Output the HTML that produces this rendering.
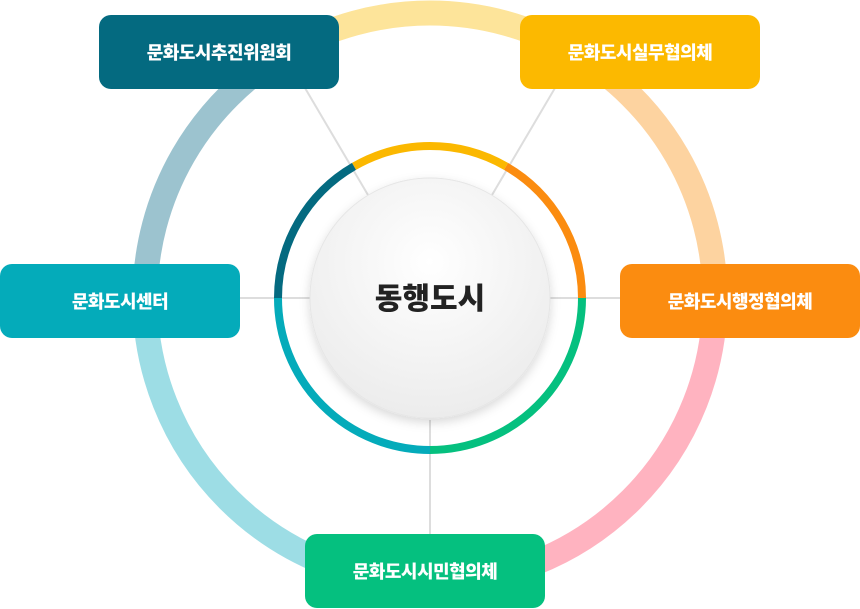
<!DOCTYPE html>
<html><head><meta charset="utf-8"><style>
html,body{margin:0;padding:0;background:#fff;}
body{width:860px;height:609px;position:relative;overflow:hidden;font-family:"Liberation Sans","Noto Sans CJK KR",sans-serif;}
.box{position:absolute;width:240px;height:74px;border-radius:12px;color:#fff;font-weight:900;font-size:18px;display:flex;align-items:center;justify-content:center;letter-spacing:-0.5px;}
</style></head><body>
<svg width="860" height="609" style="position:absolute;left:0;top:0">
<defs>
<radialGradient id="g" cx="50%" cy="35%" r="65%"><stop offset="0" stop-color="#ffffff"/><stop offset="1" stop-color="#ececec"/></radialGradient>
<filter id="sh" x="-20%" y="-20%" width="140%" height="140%"><feDropShadow dx="0" dy="4" stdDeviation="5" flood-color="#000" flood-opacity="0.15"/></filter>
</defs>
<g fill="none" stroke-width="25">
<path d="M 287.5 51.2 A 285 285 0 0 1 572.5 51.2" stroke="#fde49a"/>
<path d="M 572.5 51.2 A 285 285 0 0 1 715 298" stroke="#fdd3a0"/>
<path d="M 715 298 A 285 285 0 0 1 430 583" stroke="#ffb3c0"/>
<path d="M 430 583 A 285 285 0 0 1 145 298" stroke="#9ddde5"/>
<path d="M 145 298 A 285 285 0 0 1 287.5 51.2" stroke="#9cc3cf"/>
</g>
<g stroke="#dddddd" stroke-width="2">
<line x1="305" y1="88" x2="368" y2="195"/>
<line x1="555" y1="88" x2="492" y2="195"/>
<line x1="240" y1="298" x2="310" y2="298"/>
<line x1="550" y1="298" x2="620" y2="298"/>
<line x1="430" y1="420" x2="430" y2="534"/>
</g>
<g fill="none" stroke-width="8">
<path d="M 354 166.4 A 152 152 0 0 1 506 166.4" stroke="#fbb800"/>
<path d="M 506 166.4 A 152 152 0 0 1 582 298" stroke="#fb8c10"/>
<path d="M 582 298 A 152 152 0 0 1 430 450" stroke="#05c07f"/>
<path d="M 430 450 A 152 152 0 0 1 278 298" stroke="#04abba"/>
<path d="M 278 298 A 152 152 0 0 1 354 166.4" stroke="#046a80"/>
</g>
<circle cx="430" cy="298" r="120" fill="url(#g)" filter="url(#sh)" stroke="#e6e6e6" stroke-width="1"/>
<text x="430" y="309" text-anchor="middle" font-family="Liberation Sans, Noto Sans CJK KR, sans-serif" font-weight="900" font-size="30" fill="#222">동행도시</text>
</svg>
<div class="box" style="left:99px;top:15px;background:#046a80">문화도시추진위원회</div>
<div class="box" style="left:520px;top:15px;background:#fcb900">문화도시실무협의체</div>
<div class="box" style="left:0px;top:264px;background:#04abba">문화도시센터</div>
<div class="box" style="left:620px;top:264px;background:#fb8c10">문화도시행정협의체</div>
<div class="box" style="left:305px;top:534px;background:#05c07f">문화도시시민협의체</div>
</body></html>
